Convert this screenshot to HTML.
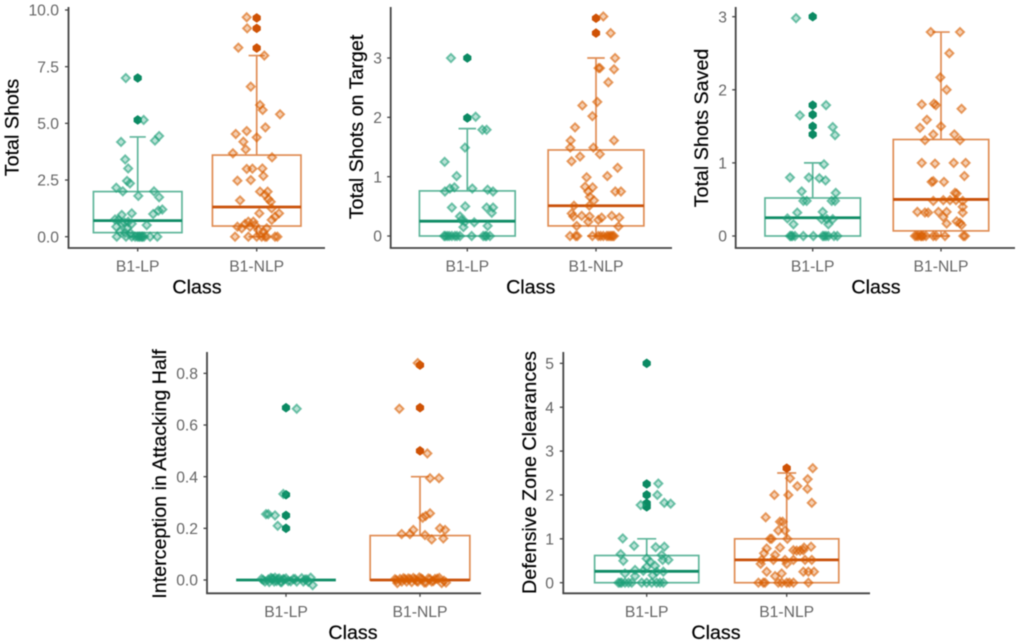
<!DOCTYPE html>
<html lang="en">
<head>
<meta charset="utf-8">
<title>Boxplots by Class</title>
<style>
html,body{margin:0;padding:0;background:#fff;}
#figure{display:block;width:1022px;height:644px;filter:blur(.45px);font-family:"Liberation Sans",sans-serif;}
.tick-label{font-size:15.7px;fill:#666;}
.title{font-size:19.7px;fill:#000;stroke:#000;stroke-width:.2px;}
</style>
</head>
<body>
<svg id="figure" xmlns="http://www.w3.org/2000/svg" width="1022" height="644" viewBox="0 0 1022 644">
  <rect width="1022" height="644" fill="#fff"/>
  <g id="p0">
    <text class="title" text-anchor="middle" transform="translate(18.5,127.5) rotate(-90)">Total Shots</text>
    <text class="title" text-anchor="middle" x="197" y="293.5">Class</text>
  </g>
  <g id="p1">
    <text class="title" text-anchor="middle" transform="translate(363,127) rotate(-90)">Total Shots on Target</text>
    <text class="title" text-anchor="middle" x="530.7" y="293.5">Class</text>
  </g>
  <g id="p2">
    <text class="title" text-anchor="middle" transform="translate(708,128) rotate(-90)">Total Shots Saved</text>
    <text class="title" text-anchor="middle" x="876" y="293.5">Class</text>
  </g>
  <g id="p3">
    <text class="title" text-anchor="middle" transform="translate(166,474) rotate(-90)">Interception in Attacking Half</text>
    <text class="title" text-anchor="middle" x="353" y="639">Class</text>
  </g>
  <g id="p4">
    <text class="title" text-anchor="middle" transform="translate(536,472.5) rotate(-90)">Defensive Zone Clearances</text>
    <text class="title" text-anchor="middle" x="716" y="639">Class</text>
  </g>
</svg>
<script>
/* ---------- data: boxes are [low whisker, q1, median, q3, high whisker] ---------- */
const classes = ['B1-LP', 'B1-NLP'];

const shotsTicks = [0, 2.5, 5, 7.5, 10];
const shotsTickLabels = ['0.0', '2.5', '5.0', '7.5', '10.0'];
const shotsLpBox = [0, .18, .71, 1.99, 4.4];
const shotsNlpBox = [0, .47, 1.31, 3.6, 7.99];
const shotsLpOutliers = [7, 5.15];
const shotsNlpOutliers = [9.65, 9.19, 8.32];
const shotsLpValues = [7, 5.15, 4.18, 4.24, 4.44, 3.41, 3.01, 2.46, 2.35, 2.16, 2, 2, 1.74, 1.8, 1.2, 1.15, 1, 1.03, .96, .76, .66, .51, .44, .59, .37, .22, .18, .15, .75, .62, .57, 0, 0, 0, 0, 0, 0, 0, 0, 0, 0, 0, 0];
const shotsLpJitter = [-.1, .05, -.14, .145, .18, -.105, -.08, -.09, -.065, -.18, -.125, .137, .18, .005, .207, .174, .13, -.05, -.134, -.19, -.08, .076, -.18, -.134, -.09, -.148, -.106, -.06, -.16, -.11, -.05, -.176, -.098, -.05, -.022, -.003, .02, .034, .053, .104, .165, .01, .04];
const shotsNlpValues = [9.68, 9.19, 8.34, 7.99, 6.62, 5.81, 5.59, 5.4, 4.82, 4.66, 4.53, 4.38, 4.19, 3.85, 3.68, 3.5, 2.99, 3, 3.01, 2.68, 2.47, 2.5, 1.99, 1.99, 1.84, 1.66, 1.54, 1.6, 1.25, 1.03, 1.03, .88, .74, .66, .66, .56, .44, .37, .44, .51, .37, .22, .29, 0, 0, 0, 0, 0, 0, 0, 0];
const shotsNlpJitter = [-.084, -.08, -.154, .064, -.05, .028, .05, .196, .073, -.084, -.176, 0, -.112, -.092, -.2, .129, -.084, -.036, .048, .056, -.162, -.05, .028, .092, .07, .098, .118, -.14, .126, .188, .022, .154, .126, -.07, -.028, -.098, -.162, -.126, -.056, -.014, .084, .056, .014, -.182, -.07, 0, .042, .07, .154, .174, .084];

const targetTicks = [0, 1, 2, 3];
const targetTickLabels = ['0', '1', '2', '3'];
const targetLpBox = [0, 0, .25, .76, 1.81];
const targetNlpBox = [0, .17, .51, 1.45, 3];
const targetLpOutliers = [3, 1.99];
const targetNlpOutliers = [3.67, 3.42];
const targetLpValues = [3, 2.01, 1.79, 1.79, 1.49, 1.25, 1.01, .82, .8, .75, .8, .78, .75, .48, .5, .48, .48, .39, .33, .27, .24, .23, .15, .17, 0, 0, 0, 0, 0, 0, 0, 0, 0, 0, 0, 0, 0];
const targetLpJitter = [-.127, .065, .117, .15, -.018, -.176, -.083, -.1, -.135, -.174, .039, .158, .2, -.12, -.016, .15, .2, .19, -.057, -.044, -.018, .054, -.03, .158, -.18, -.155, -.12, -.096, -.057, .034, .124, .15, .176, -.17, -.14, -.08, .14];
const targetNlpValues = [3.7, 3.42, 3, 2.83, 2.83, 2.81, 2.59, 2.26, 2.2, 2.02, 1.83, 1.61, 1.61, 1.49, 1.49, 1.38, 1.34, 1.26, 1.15, 1.01, .99, .83, .82, .75, .75, .75, .66, .6, .51, .51, .38, .33, .34, .33, .31, .34, .31, .27, .24, .17, .16, 0, 0, 0, 0, 0, 0, 0, 0, 0, 0, 0, 0, 0];
const targetNlpJitter = [.057, .114, .148, .031, .02, .14, .096, .01, -.106, -.028, -.163, -.197, .14, -.2, -.02, .03, -.124, -.19, .168, .088, -.073, -.085, -.026, -.06, .15, .194, -.047, -.016, -.052, -.171, -.189, -.176, -.111, -.05, .044, .122, .181, .018, -.06, -.15, .174, -.202, -.158, -.145, -.028, .018, .057, .083, .109, .13, .036, .096, .12, .14];

const savedTicks = [0, 1, 2, 3];
const savedTickLabels = ['0', '1', '2', '3'];
const savedLpBox = [0, 0, .25, .52, 1];
const savedNlpBox = [0, .07, .5, 1.32, 2.79];
const savedLpOutliers = [3, 1.79, 1.66, 1.5, 1.39];
const savedNlpOutliers = [];
const savedLpValues = [2.98, 1.79, 1.65, 1.49, 1.38, .98, .8, .8, .79, .76, .61, .59, .48, .48, .48, .48, .32, .33, .24, .23, .23, .23, .16, .16, 0, 0, 0, 0, 0, 0, 0, 0, 0, 0, 0, 0];
const savedLpJitter = [-.13, .104, -.1, .156, .174, .088, -.177, -.03, .052, .1, -.086, .18, -.073, -.047, .148, .174, -.12, .078, -.197, .07, .11, .156, -.15, .122, -.177, -.158, -.138, -.073, .005, .078, .104, .122, .166, .192, -.168, .09];
const savedNlpValues = [2.79, 2.79, 2.5, 2.17, 2, 1.8, 1.81, 1.79, 1.74, 1.59, 1.48, 1.5, 1.39, 1.39, 1.31, 1.31, 1, .99, 1, 1, .82, .74, .75, .74, .59, .58, .48, .49, .49, .49, .48, .4, .33, .32, .32, .33, .33, .32, .26, .17, .2, .18, .15, 0, 0, 0, 0, 0, 0, 0, 0, 0, 0, 0, 0];
const savedNlpJitter = [-.08, .148, .065, -.005, .044, -.15, -.055, -.04, .16, -.11, -.164, 0, -.06, .104, -.125, .148, -.15, -.047, .099, .192, .182, -.073, -.06, .023, .109, .122, -.06, .018, .07, .117, .169, .169, -.184, -.125, -.1, -.02, .044, .169, .018, .044, .122, .148, .16, -.203, -.177, -.158, -.138, -.117, -.06, -.039, .031, .174, .187, -.19, -.15];

const interceptTicks = [0, .2, .4, .6, .8];
const interceptTickLabels = ['0.0', '0.2', '0.4', '0.6', '0.8'];
const interceptLpBox = [0, 0, 0, 0, 0];
const interceptNlpBox = [0, 0, 0, .172, .4];
const interceptLpOutliers = [.667, .33, .25, .2];
const interceptNlpOutliers = [.832, .667, .5];
const interceptLpValues = [.663, .333, .255, .255, .25, .21, .004, -.006, .002, .008, .004, .009, -.004, .006, -.008, .003, -.004, .004, -.006, .007, .002, -.007, .009, -.02, 0, -.008, .006, -.006, .004, -.008, .003, .006, -.005, .004, -.006, .002];
const interceptLpJitter = [.08, -.02, -.149, -.132, -.082, -.062, -.182, -.157, -.132, -.114, -.095, -.082, -.07, -.05, -.032, -.015, .017, .055, .08, .117, .142, .167, .184, .199, -.17, -.125, -.105, -.088, -.06, -.04, -.022, 0, .035, .068, .13, .155];
const interceptNlpValues = [.84, .663, .49, .394, .394, .241, .248, .258, .178, .178, .194, .2, .194, .174, .157, .161, .003, -.012, .004, .007, -.006, .004, .008, -.004, .01, .002, -.01, .006, -.006, .004, .008, -.012, -.003, -.01, 0, -.006, .004, .006, -.008, .003, -.006, .006, -.01, .004, -.004, .005];
const interceptNlpJitter = [-.017, -.154, .055, .075, .142, .02, .042, .075, -.137, -.075, -.05, .149, .187, .037, .087, .174, -.187, -.169, -.149, -.124, -.1, -.075, -.05, -.025, -.005, .02, .045, .062, .087, .112, .144, .162, .179, .194, -.177, -.136, -.112, -.088, -.062, -.037, -.015, .008, .032, .075, .1, .128];

const clearTicks = [0, 1, 2, 3, 4, 5];
const clearTickLabels = ['0', '1', '2', '3', '4', '5'];
const clearLpBox = [0, 0, .26, .62, 1];
const clearNlpBox = [0, 0, .52, 1, 2.5];
const clearLpOutliers = [5, 2.25, 2, 1.81, 1.73];
const clearNlpOutliers = [2.61];
const clearLpValues = [2.26, 2, 1.77, 1.82, 1.8, 1.01, .84, .81, .82, .65, .63, .55, .48, .52, .52, .5, .38, .29, .21, .15, .36, .27, .25, .25, .17, 0, 0, 0, 0, 0, 0, 0, 0, 0, 0, 0, 0];
const clearLpJitter = [.083, .076, -.043, .126, .171, -.171, -.09, .064, .126, -.186, .107, 0, .024, .114, .155, -.167, .06, -.083, -.155, -.083, 0, -.024, .071, .119, .043, -.202, -.179, -.155, -.107, -.036, 0, .036, .071, .095, .119, -.19, -.13];
const clearNlpValues = [2.61, 2.38, 2.36, 2.2, 2.14, 2, 2, 1.82, 1.49, 1.39, 1.39, 1.19, 1.19, 1, 1, 1, .78, .8, .67, .8, .82, .74, .73, .73, .74, .63, .52, .52, .52, .52, .52, .52, .43, .43, .25, .15, .21, .25, .25, .25, 0, 0, 0, 0, 0, 0, 0, 0, 0];
const clearNlpJitter = [.186, .024, .15, .076, .148, -.088, .012, .179, -.15, -.048, -.029, -.06, -.012, -.119, -.107, .005, -.143, -.048, -.162, .124, .174, .048, .071, .095, .119, -.083, -.179, -.095, -.012, .048, .131, .179, 0, -.186, -.143, -.083, -.036, .119, .155, .195, -.202, -.167, -.155, -.06, -.036, 0, .019, .048, .155];

/* ---------- layout (pixels) kept apart from the data ---------- */
const layouts = [
  {axisX: 68.5, top: 7, bottom: 248, right: 325, zeroY: 236.7, unit: 22.67, c0: 137.7, c1: 256.7, labelX: 59},
  {axisX: 390.7, top: 7, bottom: 248, right: 672, zeroY: 236, unit: 59.33, c0: 467.3, c1: 596, labelX: 382},
  {axisX: 735.7, top: 7, bottom: 248, right: 1015, zeroY: 236, unit: 73.1, c0: 812.7, c1: 941, labelX: 727},
  {axisX: 207, top: 352, bottom: 593.3, right: 481, zeroY: 580, unit: 258.3, c0: 286, c1: 420, labelX: 198},
  {axisX: 563.3, top: 352, bottom: 593.3, right: 870, zeroY: 582.7, unit: 43.87, c0: 646.7, c1: 786.7, labelX: 554}
];
const panelData = [
  {ticks: shotsTicks, labels: shotsTickLabels, box: [shotsLpBox, shotsNlpBox], out: [shotsLpOutliers, shotsNlpOutliers], val: [shotsLpValues, shotsNlpValues], jit: [shotsLpJitter, shotsNlpJitter]},
  {ticks: targetTicks, labels: targetTickLabels, box: [targetLpBox, targetNlpBox], out: [targetLpOutliers, targetNlpOutliers], val: [targetLpValues, targetNlpValues], jit: [targetLpJitter, targetNlpJitter]},
  {ticks: savedTicks, labels: savedTickLabels, box: [savedLpBox, savedNlpBox], out: [savedLpOutliers, savedNlpOutliers], val: [savedLpValues, savedNlpValues], jit: [savedLpJitter, savedNlpJitter]},
  {ticks: interceptTicks, labels: interceptTickLabels, box: [interceptLpBox, interceptNlpBox], out: [interceptLpOutliers, interceptNlpOutliers], val: [interceptLpValues, interceptNlpValues], jit: [interceptLpJitter, interceptNlpJitter]},
  {ticks: clearTicks, labels: clearTickLabels, box: [clearLpBox, clearNlpBox], out: [clearLpOutliers, clearNlpOutliers], val: [clearLpValues, clearNlpValues], jit: [clearLpJitter, clearNlpJitter]}
];
const boxColor = ['#5fb69b', '#e08d54'];
const medianColor = ['#0f8c66', '#c9510a'];
const pointColor = ['#1b9e77', '#d95f02'];
const outlierColor = ['#0b8a63', '#cf5205'];
const SVG_NS = 'http://www.w3.org/2000/svg';

function make(parent, tag, attrs) {
  const el = document.createElementNS(SVG_NS, tag);
  Object.keys(attrs).forEach(function (k) { el.setAttribute(k, attrs[k]); });
  parent.appendChild(el);
  return el;
}

layouts.forEach(function (lay, p) {
  const data = panelData[p];
  const root = document.getElementById('p' + p);
  const yScale = function (v) { return lay.zeroY - v * lay.unit; };
  const spacing = lay.c1 - lay.c0;
  const xScale = function (cls, j) { return lay.c0 + (cls + j) * spacing; };

  /* axes */
  const yAxis = make(root, 'line', {x1: lay.axisX, x2: lay.axisX, y1: lay.top, y2: lay.bottom, stroke: '#444', 'stroke-width': 1.8});
  
  
  const xAxis = make(root, 'line', {x1: lay.axisX - .9, x2: lay.right, y1: lay.bottom, y2: lay.bottom, stroke: '#444', 'stroke-width': 1.8});
  
  

  data.ticks.forEach(function (t, i) {
    const y = yScale(t);
    const mark = make(root, 'line', {x1: lay.axisX - 3.5, x2: lay.axisX, y1: y, y2: y, stroke: '#444', 'stroke-width': 1.3});
    
    
    const label = make(root, 'text', {x: lay.labelX, y: y + 5.6, 'text-anchor': 'end', 'class': 'tick-label'});
    label.textContent = data.labels[i];
    
    
  });

  classes.forEach(function (name, c) {
    const cx = xScale(c, 0);
    const mark = make(root, 'line', {x1: cx, x2: cx, y1: lay.bottom, y2: lay.bottom + 3.5, stroke: '#444', 'stroke-width': 1.3});
    
    
    const label = make(root, 'text', {x: cx, y: lay.bottom + 23.5, 'text-anchor': 'middle', 'class': 'tick-label'});
    label.textContent = name;
    
    

    /* boxplot */
    const b = data.box[c];
    const hw = .372 * spacing;
    const capW = .068 * spacing;
    const group = make(root, 'g', {fill: 'none', stroke: boxColor[c], 'stroke-width': 1.7});
    
    
    make(group, 'line', {x1: cx, x2: cx, y1: yScale(b[3]), y2: yScale(b[4])});
    make(group, 'line', {x1: cx, x2: cx, y1: yScale(b[0]), y2: yScale(b[1])});
    make(group, 'line', {x1: cx - capW, x2: cx + capW, y1: yScale(b[4]), y2: yScale(b[4])});
    make(group, 'line', {x1: cx - capW, x2: cx + capW, y1: yScale(b[0]), y2: yScale(b[0])});
    make(group, 'rect', {x: cx - hw, y: yScale(b[3]), width: 2 * hw, height: Math.max(yScale(b[1]) - yScale(b[3]), 0)});
    const med = make(root, 'line', {x1: cx - hw, x2: cx + hw, y1: yScale(b[2]), y2: yScale(b[2]), stroke: medianColor[c], 'stroke-width': 2.8});
    
    

    /* outliers */
    data.out[c].forEach(function (v) {
      const o = make(root, 'polygon', {
        points: [[cx, yScale(v) - 4.8], [cx + 4.1, yScale(v) - 1.9], [cx + 4.1, yScale(v) + 1.9], [cx, yScale(v) + 4.8], [cx - 4.1, yScale(v) + 1.9], [cx - 4.1, yScale(v) - 1.9]].join(' '),
        fill: outlierColor[c]
      });
      
      
    });

    /* jittered points */
    data.val[c].forEach(function (v, i) {
      const x = xScale(c, data.jit[c][i]);
      const y = yScale(v);
      const r = 4.1;
      const d = make(root, 'polygon', {
        points: [[x, y - r], [x + r, y], [x, y + r], [x - r, y]].join(' '),
        fill: pointColor[c], 'fill-opacity': .3,
        stroke: pointColor[c], 'stroke-opacity': .6, 'stroke-width': 1.9
      });
      
      
    });
  });
});
</script>
</body>
</html>
